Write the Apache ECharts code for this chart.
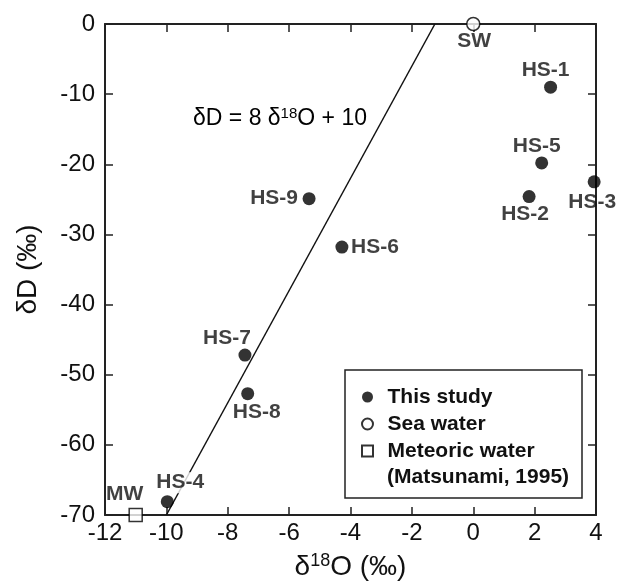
<!DOCTYPE html>
<html>
<head>
<meta charset="utf-8">
<script src="https://cdn.jsdelivr.net/npm/echarts@6/dist/echarts.min.js"></script>
<style>
  html, body { margin: 0; padding: 0; background: #fff; }
  #chart { width: 619px; height: 583px; }
</style>
</head>
<body>
<div id="chart"></div>
<script>
// δ18O / δD 数据（‰）
const sampleNames = ['HS-1', 'HS-2', 'HS-3', 'HS-4', 'HS-5', 'HS-6', 'HS-7', 'HS-8', 'HS-9']
const sampleO = [2.52, 1.82, 3.94, -9.97, 2.23, -4.28, -7.44, -7.35, -5.35]
const sampleD = [-9.0, -24.6, -22.5, -68.1, -19.8, -31.8, -47.2, -52.7, -24.9]

const seaWaterO = [0]
const seaWaterD = [0]
const meteoricO = [-11.0]
const meteoricD = [-70]

// 天水线 δD = 8 δ18O + 10
const mwlO = [-10, -1.25]
const mwlD = [-70, 0]

const xTicks = { min: -12, max: 4, interval: 2 }
const yTicks = { min: -70, max: 0, interval: 10 }

// 标签偏移（像素），只是样式
const labelOffset = {
  'HS-1': [-5, -17],
  'HS-2': [-4, 18],
  'HS-3': [-2, 20],
  'HS-4': [13, -19],
  'HS-5': [-5, -17],
  'HS-6': [33, 0],
  'HS-7': [-18, -17],
  'HS-8': [9, 19],
  'HS-9': [-35, 0],
  SW: [1, 17],
  MW: [-11, -21],
}

const FONT = '"Liberation Sans", Arial, Helvetica, sans-serif'
const INK = '#111'
const SQUARE = 'path://M0,0H10V10H0Z'

const chart = echarts.init(document.getElementById('chart'))

function pointLabel(name, extra) {
  return Object.assign({
    show: true,
    formatter: name,
    position: 'inside',
    offset: labelOffset[name],
    color: INK,
    fontFamily: FONT,
    fontWeight: 'bold',
    fontSize: 21,
    textBorderWidth: 0,
  }, extra || {})
}

const samples = sampleNames.map((name, i) => ({
  name,
  value: [sampleO[i], sampleD[i]],
  label: pointLabel(name, name === 'HS-4' ? { backgroundColor: '#fff', padding: [0, 2] } : null),
}))

const axisLine = { onZero: false, lineStyle: { color: '#222', width: 2 } }
const axisTick = { inside: true, length: 8, lineStyle: { color: '#222', width: 1.5 } }
const axisLabel = { color: INK, fontFamily: FONT, fontSize: 24 }

const supRich = {
  a: { fontFamily: FONT, fontSize: 28, color: INK, lineHeight: 30 },
  s: { fontFamily: FONT, fontSize: 18, color: INK, lineHeight: 20, verticalAlign: 'top' },
}

const option = {
  animation: false,
  backgroundColor: '#fff',
  grid: { left: 105, right: 23, top: 24, bottom: 68, outerBoundsMode: 'none' },
  xAxis: [
    {
      type: 'value',
      position: 'bottom',
      ...xTicks,
      axisLine,
      axisTick,
      axisLabel: { ...axisLabel, margin: 6 },
      splitLine: { show: false },
      name: '{a|δ}{s|18}{a|O (‰)}',
      nameLocation: 'middle',
      nameGap: 37,
      nameTextStyle: { rich: supRich },
    },
    {
      type: 'value',
      position: 'top',
      ...xTicks,
      axisLine,
      axisTick,
      axisLabel: { show: false },
      splitLine: { show: false },
    },
  ],
  yAxis: [
    {
      type: 'value',
      position: 'left',
      ...yTicks,
      axisLine,
      axisTick,
      axisLabel: { ...axisLabel, margin: 10 },
      splitLine: { show: false },
      name: 'δD (‰)',
      nameLocation: 'middle',
      nameGap: 63,
      nameTextStyle: { fontFamily: FONT, fontSize: 28, color: INK },
    },
    {
      type: 'value',
      position: 'right',
      ...yTicks,
      axisLine,
      axisTick,
      axisLabel: { show: false },
      splitLine: { show: false },
    },
  ],
  legend: {
    data: [
      { name: 'This study', icon: 'circle' },
      { name: 'Sea water', icon: 'circle' },
      { name: 'Meteoric water', icon: SQUARE },
    ],
    orient: 'vertical',
    left: 361,
    top: 385,
    padding: 0,
    itemWidth: 30,
    itemHeight: 11,
    itemGap: 3,
    selectedMode: false,
    symbolKeepAspect: true,
    textStyle: { color: INK, fontFamily: FONT, fontSize: 21, fontWeight: 'bold', lineHeight: 24 },
  },
  graphic: [
    {
      type: 'rect',
      x: 345,
      y: 370,
      shape: { width: 237, height: 128 },
      style: { fill: 'none', stroke: '#222', lineWidth: 1.5 },
    },
    {
      type: 'text',
      x: 387,
      y: 477,
      style: {
        text: '(Matsunami, 1995)',
        fill: INK,
        font: 'bold 21px ' + FONT,
        verticalAlign: 'middle',
      },
    },
    {
      type: 'text',
      x: 280,
      y: 119,
      style: {
        text: '{a|δD = 8 δ}{s|18}{a|O + 10}',
        align: 'center',
        verticalAlign: 'middle',
        rich: {
          a: { fontFamily: FONT, fontSize: 23, color: INK, lineHeight: 26 },
          s: { fontFamily: FONT, fontSize: 15, color: INK, lineHeight: 16, verticalAlign: 'top' },
        },
      },
    },
  ],
  series: [
    {
      name: 'MWL',
      type: 'line',
      data: mwlO.map((o, i) => [o, mwlD[i]]),
      symbol: 'none',
      lineStyle: { color: '#111', width: 1.5 },
      z: 1,
    },
    {
      name: 'This study',
      type: 'scatter',
      clip: false,
      symbol: 'circle',
      symbolSize: 13,
      itemStyle: { color: '#000' },
      data: samples,
    },
    {
      name: 'Sea water',
      type: 'scatter',
      clip: false,
      symbol: 'circle',
      symbolSize: 13,
      itemStyle: { color: '#fff', borderColor: '#000', borderWidth: 1.5 },
      data: seaWaterO.map((o, i) => ({ name: 'SW', value: [o, seaWaterD[i]], label: pointLabel('SW') })),
    },
    {
      name: 'Meteoric water',
      type: 'scatter',
      clip: false,
      symbol: 'rect',
      symbolSize: 13,
      itemStyle: { color: '#fff', borderColor: '#000', borderWidth: 1.5 },
      data: meteoricO.map((o, i) => ({ name: 'MW', value: [o, meteoricD[i]], label: pointLabel('MW') })),
    },
  ],
}

chart.setOption(option)
</script>
</body>
</html>
